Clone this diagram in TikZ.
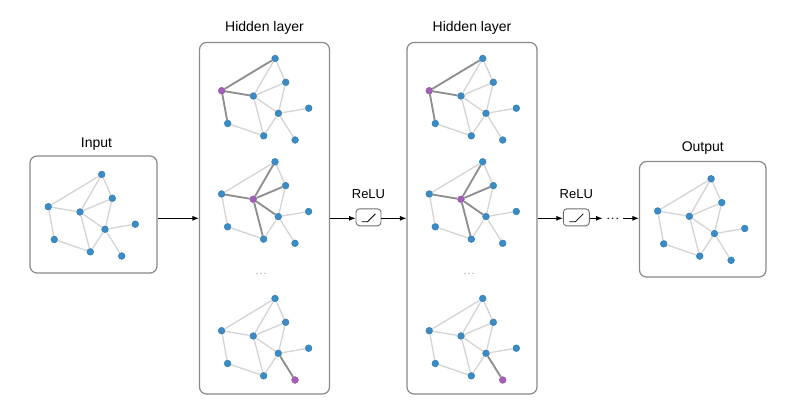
\documentclass[tikz,border=0pt]{standalone}
\usepackage{fontspec}
\setmainfont{Liberation Sans}
\usetikzlibrary{arrows.meta}
\definecolor{gblue}{HTML}{3A8CC6}
\definecolor{gpurple}{HTML}{A65DBA}
\definecolor{ledge}{HTML}{D4D4D4}
\definecolor{dedge}{HTML}{8E8E8E}
\definecolor{boxc}{HTML}{8A8A8A}
\definecolor{relc}{HTML}{6E6E6E}
\tikzset{
  gnode/.style={circle, inner sep=0pt, minimum size=6.8pt, draw=#1!85!black, line width=0.4pt, fill=#1},
  ledgeS/.style={draw=ledge, line width=1.3pt},
  dedgeS/.style={draw=dedge, line width=1.8pt},
  panel/.style={draw=boxc, line width=1.2pt, rounded corners=7pt, inner sep=0pt},
  relubox/.style={draw=relc, line width=0.9pt, rounded corners=3.5pt, inner sep=0pt, minimum height=17pt},
  title/.style={font=\fontsize{14}{16}\selectfont, anchor=base, inner sep=0pt},
  relulab/.style={font=\fontsize{13}{15}\selectfont, anchor=base, inner sep=0pt},
  arr/.style={-{Latex[length=6.5pt,width=5pt]}, line width=0.9pt, black},
}
\newcommand{\drawgraph}[4]{%
  \def\purp{#4}%
  \foreach \n/\x/\y in {A/101.7/174.5, B/112.3/198.3, C/48.3/206.7, D/80/212, E/105/229.3, F/135.3/224.2, G/54.3/239.5, H/90.3/251.8, I/121.7/256}{%
    \edef\cur{\n}%
    \ifx\cur\purp\def\col{gpurple}\else\def\col{gblue}\fi
    \node[gnode=\col] (#1\n) at ({\x+(#2)},{\y+(#3)}) {};
  }%
  \foreach \a/\b in {A/C,A/D,A/B,B/D,B/E,C/D,C/G,D/E,D/H,E/F,E/H,E/I,G/H}{%
    \draw[ledgeS] (#1\a) -- (#1\b);
  }%
}
\begin{document}
\begin{tikzpicture}[x=1pt,y=-1pt]
\useasboundingbox (0,0) rectangle (793,402);
\fill[white] (0,0) rectangle (793,402);

% panels
\node[panel, minimum width=127pt, minimum height=117pt] (inp) at (93.5,214.5) {};
\node[panel, minimum width=130pt, minimum height=351.5pt] (hid1) at (264.5,218.25) {};
\node[panel, minimum width=130pt, minimum height=351.5pt] (hid2) at (472,218.25) {};
\node[panel, minimum width=126.5pt, minimum height=115.5pt] (out) at (702.75,219.25) {};

% titles
\node[title] (tin) at (96.5,147.3) {Input};
\node[title] (th1) at (264.5,31.7) {Hidden layer};
\node[title] (th2) at (472,31.7) {Hidden layer};
\node[title] (tout) at (702.8,151.7) {Output};

% graphs
\drawgraph{in}{0}{0}{Z}
\drawgraph{ha}{173.4}{-116}{C}
\drawgraph{hb}{173.3}{-12.7}{D}
\drawgraph{hc}{173.3}{124}{I}
\drawgraph{ka}{381}{-116}{C}
\drawgraph{kb}{381}{-12.7}{D}
\drawgraph{kc}{381}{124}{I}
\drawgraph{ou}{609.4}{4.3}{Z}

% highlighted edges
\foreach \p in {ha,ka}{
  \draw[dedgeS] (\p C) -- (\p A);
  \draw[dedgeS] (\p C) -- (\p D);
  \draw[dedgeS] (\p C) -- (\p G);
}
\foreach \p in {hb,kb}{
  \draw[dedgeS] (\p D) -- (\p A);
  \draw[dedgeS] (\p D) -- (\p B);
  \draw[dedgeS] (\p D) -- (\p C);
  \draw[dedgeS] (\p D) -- (\p E);
  \draw[dedgeS] (\p D) -- (\p H);
}
\foreach \p in {hc,kc}{
  \draw[dedgeS] (\p E) -- (\p I);
}

% ellipses inside hidden layers
\coordinate (e1) at (261,273.3);
\coordinate (e2) at (469,273.3);
\foreach \c in {e1,e2}{
  \foreach \k in {-4,0,4}{
    \fill[gray!70] (\c) ++(\k,0) circle (0.7pt);
  }
}

% ReLU boxes
\node[relubox, minimum width=25pt] (relu1) at (368.5,217.3) {};
\node[relubox, minimum width=26pt] (relu2) at (576.3,217.3) {};
\foreach \r in {relu1,relu2}{
  \draw[black, line width=0.8pt] (\r.center) ++(-7,4.5) -- ++(6,0) -- ++(8,-8);
}
\node[relulab] (l1) at (368.5,198.5) {ReLU};
\node[relulab] (l2) at (576.3,198.5) {ReLU};

% dots before output
\node[inner sep=0pt, minimum width=20pt, minimum height=4pt] (dots) at (612.7,218.3) {};
\foreach \k in {-4.5,0,4.5}{
  \fill[black] (dots.center) ++(\k,0) circle (0.8pt);
}

% arrows
\coordinate (ay) at (0,218.3);
\draw[arr] (inp.east |- ay) -- (hid1.west |- ay);
\draw[arr] (hid1.east |- ay) -- (relu1.west |- ay);
\draw[arr] (relu1.east |- ay) -- (hid2.west |- ay);
\draw[arr] (hid2.east |- ay) -- (relu2.west |- ay);
\draw[arr] (relu2.east |- ay) -- (dots.west |- ay);
\draw[arr] (dots.east |- ay) -- (out.west |- ay);
\end{tikzpicture}
\end{document}
